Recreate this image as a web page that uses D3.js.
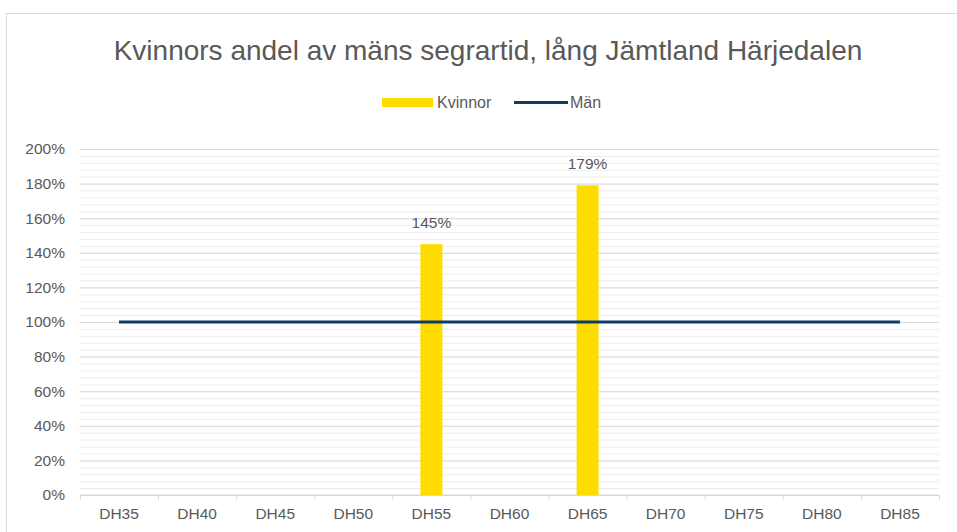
<!DOCTYPE html>
<html lang="sv">
<head>
<meta charset="utf-8">
<title>Kvinnors andel av mäns segrartid</title>
<script src="https://cdn.jsdelivr.net/npm/d3@7"></script>
<style>
  body { margin: 0; background: #fff; }
  text { font-family: "Liberation Sans", Arial, sans-serif; fill: #595959; }
</style>
</head>
<body>
<script>
// Data
const categories = ["DH35", "DH40", "DH45", "DH50", "DH55", "DH60", "DH65", "DH70", "DH75", "DH80", "DH85"];
const kvinnor = [null, null, null, null, 1.45, null, 1.79, null, null, null, null];
const man = [1, 1, 1, 1, 1, 1, 1, 1, 1, 1, 1];
const yTicks = [0, 0.2, 0.4, 0.6, 0.8, 1, 1.2, 1.4, 1.6, 1.8, 2];

const WIDTH = 957;
const HEIGHT = 532;
const margin = { left: 80, right: 18, top: 149, bottom: 37 };
const FS = 15.5;

const svg = d3.select("body").append("svg")
  .attr("width", WIDTH)
  .attr("height", HEIGHT);

// cadre du graphique
svg.append("rect")
  .attr("x", 6.5).attr("y", 13.5)
  .attr("width", 960).attr("height", 540)
  .attr("fill", "#fff")
  .attr("stroke", "#d9d9d9");

const x = d3.scaleBand()
  .domain(categories)
  .range([margin.left, WIDTH - margin.right]);

const y = d3.scaleLinear()
  .domain([0, 2])
  .range([HEIGHT - margin.bottom, margin.top]);

// Titre
svg.append("text")
  .attr("x", 488).attr("y", 60)
  .attr("text-anchor", "middle")
  .attr("font-size", 28)
  .text("Kvinnors andel av mäns segrartid, lång Jämtland Härjedalen");

// Légende
const legend = svg.append("g");
legend.append("rect")
  .attr("x", 382).attr("y", 98).attr("width", 51).attr("height", 9)
  .attr("fill", "#ffdc00");
legend.append("text").attr("x", 437).attr("y", 108).attr("font-size", 16).text("Kvinnor");
legend.append("line")
  .attr("x1", 514).attr("x2", 568).attr("y1", 102.5).attr("y2", 102.5)
  .attr("stroke", "#0c3c68").attr("stroke-width", 3);
legend.append("text").attr("x", 570).attr("y", 108).attr("font-size", 16).text("Män");

// lignes de grille secondaires (pas de 4 %)
svg.append("g")
  .attr("transform", `translate(${margin.left},0)`)
  .call(d3.axisLeft(y).tickValues(d3.range(0, 2.001, 0.04)).tickSize(-(WIDTH - margin.left - margin.right)).tickFormat(""))
  .call(g => g.select(".domain").remove())
  .call(g => g.selectAll("line").attr("stroke", "#ededed"));

// lignes de grille principales + étiquettes
svg.append("g")
  .attr("transform", `translate(${margin.left},0)`)
  .call(d3.axisLeft(y).tickValues(yTicks).tickSize(-(WIDTH - margin.left - margin.right)).tickPadding(15).tickFormat(d3.format(".0%")))
  .call(g => g.select(".domain").remove())
  .call(g => g.selectAll("line").attr("stroke", "#d9d9d9"))
  .call(g => g.selectAll("text").attr("font-size", FS).attr("fill", "#595959").attr("font-family", "Liberation Sans, Arial, sans-serif"));

// axe X
const xAxis = svg.append("g")
  .attr("transform", `translate(0,${y(0)})`);
xAxis.append("line")
  .attr("x1", margin.left).attr("x2", WIDTH - margin.right)
  .attr("stroke", "#d9d9d9");
xAxis.selectAll(".tick")
  .data(categories.concat(["end"]))
  .enter().append("line")
  .attr("x1", (d, i) => margin.left + i * x.step() + 0.5)
  .attr("x2", (d, i) => margin.left + i * x.step() + 0.5)
  .attr("y1", 0).attr("y2", 5)
  .attr("stroke", "#d9d9d9");
xAxis.selectAll("text")
  .data(categories)
  .enter().append("text")
  .attr("x", d => x(d) + x.bandwidth() / 2)
  .attr("y", 24)
  .attr("text-anchor", "middle")
  .attr("font-size", FS)
  .text(d => d);

// Barres (Kvinnor)
const barW = 22;
const bars = categories.map((c, i) => ({ c, v: kvinnor[i] })).filter(d => d.v != null);
svg.selectAll(".bar")
  .data(bars)
  .enter().append("rect")
  .attr("class", "bar")
  .attr("x", d => x(d.c) + x.bandwidth() / 2 - barW / 2)
  .attr("y", d => y(d.v))
  .attr("width", barW)
  .attr("height", d => y(0) - y(d.v))
  .attr("fill", "#ffdc00");

svg.selectAll(".lbl")
  .data(bars)
  .enter().append("text")
  .attr("class", "lbl")
  .attr("x", d => x(d.c) + x.bandwidth() / 2)
  .attr("y", d => y(d.v) - 16)
  .attr("text-anchor", "middle")
  .attr("font-size", FS)
  .text(d => d3.format(".0%")(d.v));

// Ligne (Män)
const line = d3.line()
  .x((d, i) => x(categories[i]) + x.bandwidth() / 2)
  .y(d => y(d));
svg.append("path")
  .datum(man)
  .attr("d", line)
  .attr("fill", "none")
  .attr("stroke", "#0c3c68")
  .attr("stroke-width", 3);
</script>
</body>
</html>
